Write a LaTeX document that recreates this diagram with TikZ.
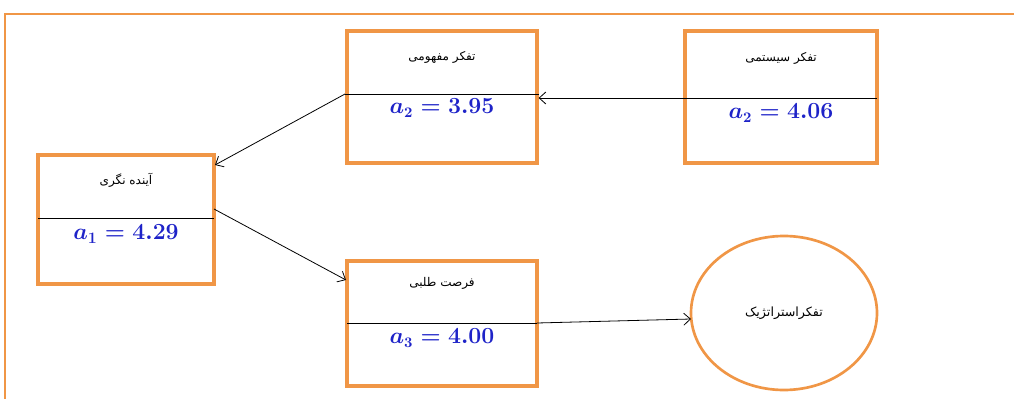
\documentclass[tikz,border=0pt]{standalone}
\usepackage{amsmath}
\usepackage{amssymb}
\usepackage{fontspec}
\usepackage{tikz}
\usetikzlibrary{shapes.geometric,arrows.meta}
\newfontfamily\farsifont[Script=Arabic]{DejaVu Sans}
\TeXXeTstate=1
\definecolor{frameorange}{RGB}{240,150,70}
\definecolor{valueblue}{RGB}{30,35,200}
\tikzset{
  box/.style={draw=frameorange,line width=2.4pt,inner sep=0pt},
  oval/.style={ellipse,draw=frameorange,line width=2pt,inner sep=0pt,minimum width=139.5pt,minimum height=115.5pt},
  divider/.style={line width=0.6pt},
  arr/.style={-{Straight Barb[length=5pt,width=9pt]},line width=0.6pt},
  fa/.style={inner sep=0.75pt,font=\farsifont\fontsize{9}{11}\selectfont},
  val/.style={inner sep=0.75pt,text=valueblue,font=\fontsize{16}{18}\selectfont\boldmath},
}
\begin{document}
\begin{tikzpicture}[x=0.75pt,y=0.75pt,yscale=-1]
	\useasboundingbox (0,0) rectangle (1014,399);
	\clip (0,0) rectangle (1014,399);
	%Shape: outer frame
	\draw [draw=frameorange,line width=2.2pt] (5,420) -- (5,14) -- (1030,14) ;
	
	%Shape: boxes
	\node [box,minimum width=132pt,minimum height=96.75pt] (fut) at (126,219.5) {};
	\node [box,minimum width=142.5pt,minimum height=99pt] (con) at (442,97) {};
	\node [box,minimum width=144pt,minimum height=99pt] (sys) at (781,97) {};
	\node [box,minimum width=142.5pt,minimum height=93.75pt] (opp) at (442,323.5) {};
	%Shape: Ellipse
	\node [oval,font=\farsifont\fontsize{9.5}{11}\selectfont] (str) at (784,313) {\beginR تفکراستراتژیک\endR};
	
	%Straight Lines: dividers
	\coordinate (fut-l) at (38,218);   \coordinate (fut-r) at (214,218);
	\coordinate (con-l) at (345,94);   \coordinate (con-r) at (539,94);
	\coordinate (sys-l) at (685,98);   \coordinate (sys-r) at (877,98);
	\coordinate (opp-l) at (347,323);  \coordinate (opp-r) at (537,323);
	\draw [divider] (fut-l) -- (fut-r) ;
	\draw [divider] (con-l) -- (con-r) ;
	\draw [divider] (sys-l) -- (sys-r) ;
	\draw [divider] (opp-l) -- (opp-r) ;
	
	%Straight Lines: arrows
	\coordinate (fut-in) at (215,165);
	\coordinate (fut-out) at (214,209);
	\coordinate (opp-in) at (346,280);
	\coordinate (str-in) at (691,319);
	\draw [arr] (sys-r) -- (con.east |- sys-r) ;
	\draw [arr] (con-l) -- (fut-in) ;
	\draw [arr] (fut-out) -- (opp-in) ;
	\draw [arr] (opp-r) -- (str-in) ;
	
	% Text Node
	\node [fa] (fut-t) at (126,180) {\beginR آینده نگری\endR};
	% Text Node
	\node [val,font=\fontsize{17}{19}\selectfont\boldmath] (fut-v) at (126,234) {$a_{1} = 4.29$};
	% Text Node
	\node [fa] (con-t) at (442,57) {\beginR تفکر مفهومی\endR};
	% Text Node
	\node [val] (con-v) at (442,108) {$a_{2} = 3.95$};
	% Text Node
	\node [fa] (sys-t) at (781,58) {\beginR تفکر سیستمی\endR};
	% Text Node
	\node [val] (sys-v) at (781,113) {$a_{2} = 4.06$};
	% Text Node
	\node [fa] (opp-t) at (442,283) {\beginR فرصت طلبی\endR};
	% Text Node
	\node [val] (opp-v) at (442,338) {$a_{3} = 4.00$};
	
\end{tikzpicture}
\end{document}
